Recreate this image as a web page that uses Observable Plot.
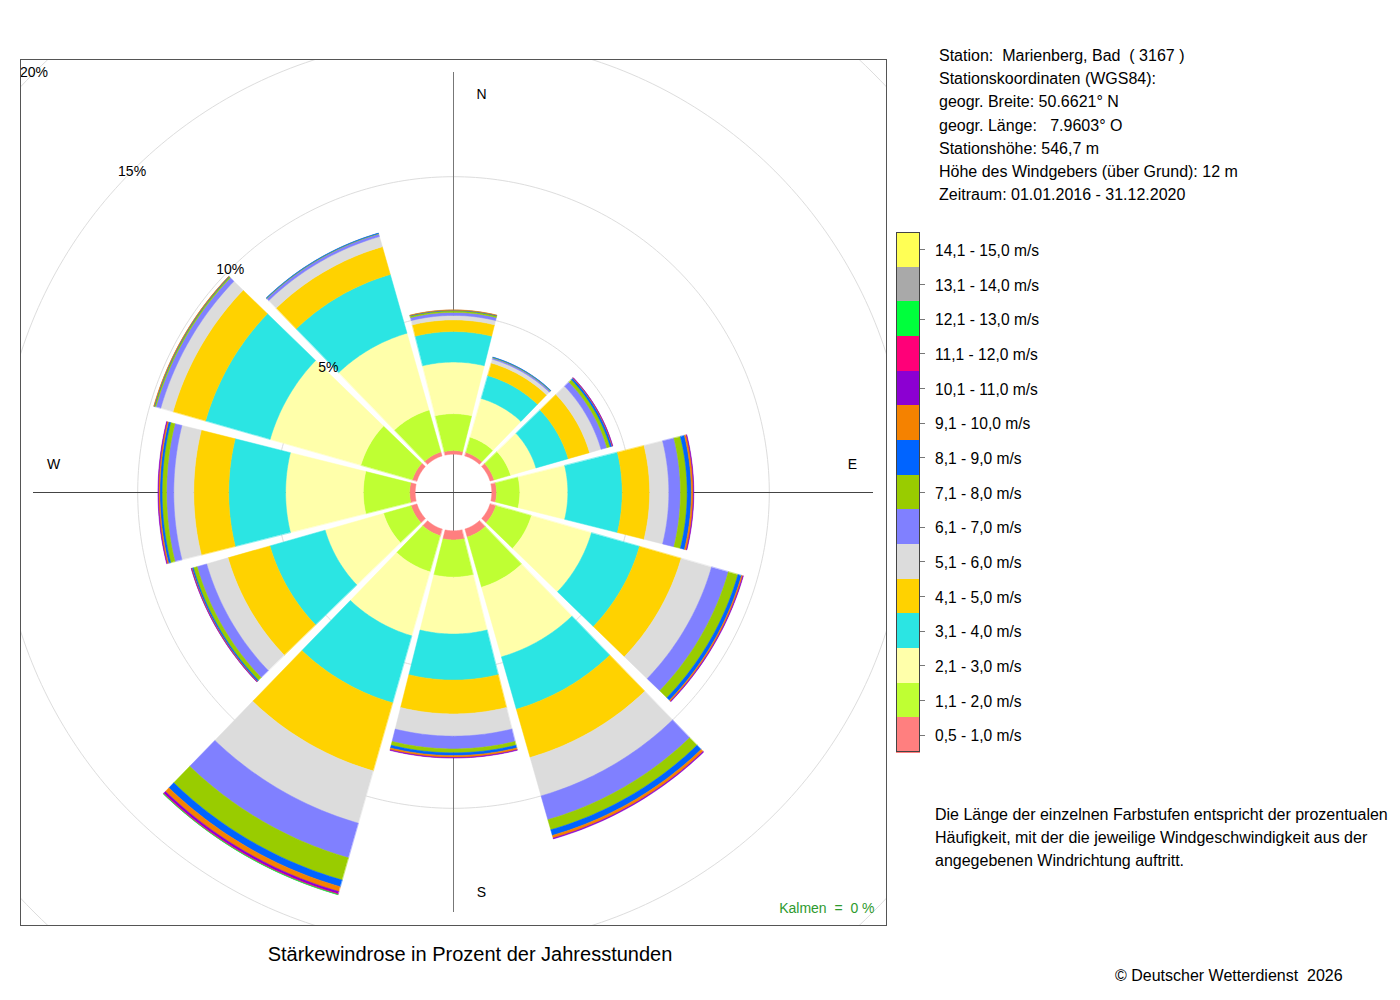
<!DOCTYPE html>
<html>
<head>
<meta charset="utf-8">
<script src="https://cdn.jsdelivr.net/npm/d3@7"></script>
<script src="https://cdn.jsdelivr.net/npm/@observablehq/plot@0.6"></script>
<style>
  body { margin: 0; background: #fff; font-family: "Liberation Sans", Arial, Helvetica, sans-serif; color: #000; }
  #page { position: relative; width: 1400px; height: 1000px; overflow: hidden; background: #fff; }
  #chart { position: absolute; left: 18px; top: 57px; }
  #info { position: absolute; left: 939px; top: 44px; font-size: 16px; line-height: 23.2px; white-space: pre; }
  #legend { position: absolute; left: 896px; top: 232px; }
  .sw { position: absolute; left: 0; width: 24px; box-sizing: border-box; }
  #legbox { position: absolute; left: 0; top: 0; width: 24px; border: 1px solid #444; box-sizing: border-box; }
  .tick { position: absolute; left: 24px; width: 5px; height: 1px; background: #777; }
  .lab { position: absolute; left: 39px; font-size: 15.6px; line-height: 18px; white-space: pre; }
  #desc { position: absolute; left: 935px; top: 803px; font-size: 16px; line-height: 23px; }
  #title { position: absolute; left: 0; width: 940px; top: 942px; text-align: center; font-size: 20px; line-height: 24px; }
  #copy { position: absolute; left: 1115px; top: 966px; font-size: 16px; line-height: 20px; white-space: pre; }
</style>
</head>
<body>
<div id="page">
  <div id="chart"></div>
  <div id="info"></div>
  <div id="legend"></div>
  <div id="desc">Die Länge der einzelnen Farbstufen entspricht der prozentualen<br>Häufigkeit, mit der die jeweilige Windgeschwindigkeit aus der<br>angegebenen Windrichtung auftritt.</div>
  <div id="title">Stärkewindrose in Prozent der Jahresstunden</div>
  <div id="copy">© Deutscher Wetterdienst  2026</div>
</div>
<script>
// ---------------- data ----------------
const directions = ["N", "NNO", "ONO", "O", "OSO", "SSO", "S", "SSW", "WSW", "W", "WNW", "NNW"];
const directionAngles = [0, 30, 60, 90, 120, 150, 180, 210, 240, 270, 300, 330];

const speedClasses = [
  "0,5 - 1,0 m/s", "1,1 - 2,0 m/s", "2,1 - 3,0 m/s", "3,1 - 4,0 m/s", "4,1 - 5,0 m/s",
  "5,1 - 6,0 m/s", "6,1 - 7,0 m/s", "7,1 - 8,0 m/s", "8,1 - 9,0 m/s", "9,1 - 10,0 m/s",
  "10,1 - 11,0 m/s", "11,1 - 12,0 m/s", "12,1 - 13,0 m/s", "13,1 - 14,0 m/s", "14,1 - 15,0 m/s"
];
const classColors = [
  "#ff7f7f", "#bfff33", "#ffffaa", "#2be5e3", "#ffd200",
  "#dcdcdc", "#8080ff", "#99cc00", "#0064ff", "#f58200",
  "#8c00d2", "#ff0078", "#00ff3c", "#a9a9a9", "#ffff55"
];

// percent of hours per direction (order as in `directions`)
const s0510  = [0.13, 0.13, 0.15, 0.17, 0.22, 0.30, 0.33, 0.25, 0.22, 0.20, 0.17, 0.15];
const s1120  = [1.33, 0.57, 0.62, 0.84, 1.33, 1.88, 1.34, 1.35, 1.03, 1.67, 1.93, 1.57];
const s2130  = [1.86, 1.45, 0.95, 1.73, 2.25, 2.61, 2.05, 2.40, 2.19, 2.80, 3.40, 2.88];
const s3140  = [1.10, 0.86, 1.21, 1.96, 1.80, 1.96, 1.66, 2.51, 2.07, 2.05, 2.42, 2.20];
const s4150  = [0.42, 0.47, 0.80, 0.99, 1.56, 1.81, 1.22, 2.55, 1.57, 1.26, 1.22, 1.04];
const s5160  = [0.16, 0.14, 0.43, 0.69, 1.14, 1.44, 0.80, 1.96, 0.80, 0.72, 0.46, 0.38];
const s6170  = [0.11, 0.05, 0.22, 0.42, 0.63, 0.89, 0.46, 1.30, 0.36, 0.26, 0.18, 0.10];
const s7180  = [0.06, 0.02, 0.12, 0.24, 0.36, 0.38, 0.14, 0.83, 0.14, 0.16, 0.05, 0.02];
const s8190  = [0.02, 0.01, 0.07, 0.15, 0.13, 0.21, 0.10, 0.25, 0.05, 0.08, 0.02, 0.01];
const s91100 = [0.01, 0.00, 0.02, 0.07, 0.05, 0.10, 0.07, 0.18, 0.02, 0.05, 0.01, 0.00];
const s101110 = [0.00, 0.00, 0.01, 0.02, 0.02, 0.03, 0.02, 0.08, 0.01, 0.02, 0.00, 0.00];
const s111120 = [0.00, 0.00, 0.00, 0.00, 0.00, 0.00, 0.00, 0.03, 0.00, 0.00, 0.00, 0.00];
const s121130 = [0.00, 0.00, 0.00, 0.00, 0.00, 0.00, 0.00, 0.01, 0.00, 0.00, 0.00, 0.00];
const s131140 = [0, 0, 0, 0, 0, 0, 0, 0, 0, 0, 0, 0];
const s141150 = [0, 0, 0, 0, 0, 0, 0, 0, 0, 0, 0, 0];
const classValues = [s0510, s1120, s2130, s3140, s4150, s5160, s6170, s7180, s8190, s91100,
                     s101110, s111120, s121130, s131140, s141150];

const gridPercents = [5, 10, 15, 20];
const gridLabels = ["5%", "10%", "15%", "20%"];
const calmsText = "Kalmen  =  0 %";

const stationLines = [
  "Station:  Marienberg, Bad  ( 3167 )",
  "Stationskoordinaten (WGS84):",
  "geogr. Breite: 50.6621° N",
  "geogr. Länge:   7.9603° O",
  "Stationshöhe: 546,7 m",
  "Höhe des Windgebers (über Grund): 12 m",
  "Zeitraum: 01.01.2016 - 31.12.2020"
];

// ---------------- geometry (radial units = percent) ----------------
const pxPerPct = 27.75;
const R = 433 / pxPerPct;          // half extent of the square plot frame
const hole = 38.3 / pxPerPct;      // white centre (calms circle)
const halfAngle = 14.08 * Math.PI / 180;
const edgeOffset = 1 / pxPerPct;
const deg = Math.PI / 180;

const segs = [];
directions.forEach((d, i) => {
  let cum = 0;
  const th = directionAngles[i] * deg;
  classValues.forEach((vals, c) => {
    const v = vals[i];
    if (!(v > 0)) return;
    const r1 = hole + cum, r2 = hole + cum + v;
    cum += v;
    const id = d + "-" + c;
    const edge = r => halfAngle - Math.asin(Math.min(1, edgeOffset / r));
    const a1 = edge(r1), a2 = edge(r2), n = 30;
    for (let k = 0; k <= n; k++) {
      const a = th - a1 + 2 * a1 * k / n;
      segs.push({id, cls: speedClasses[c], x: r1 * Math.sin(a), y: r1 * Math.cos(a)});
    }
    for (let k = 0; k <= n; k++) {
      const a = th + a2 - 2 * a2 * k / n;
      segs.push({id, cls: speedClasses[c], x: r2 * Math.sin(a), y: r2 * Math.cos(a)});
    }
  });
});

const grid = [];
gridPercents.forEach(p => {
  const r = hole + p;
  for (let k = 0; k <= 360; k++) grid.push({p, x: r * Math.sin(k * deg), y: r * Math.cos(k * deg)});
});
const gridText = gridPercents.map((p, i) => ({
  t: gridLabels[i], x: -(hole + p) * Math.SQRT1_2, y: (hole + p) * Math.SQRT1_2
}));

const axisLen = 420 / pxPerPct;
const compass = [
  {t: "N", x: 28 / pxPerPct, y: 398 / pxPerPct},
  {t: "S", x: 28 / pxPerPct, y: -400 / pxPerPct},
  {t: "W", x: -400 / pxPerPct, y: 28 / pxPerPct},
  {t: "E", x: 399 / pxPerPct, y: 28 / pxPerPct}
];

const chart = Plot.plot({
  width: 870, height: 870, margin: 2,
  x: {domain: [-R, R], axis: null},
  y: {domain: [-R, R], axis: null},
  color: {domain: speedClasses, range: classColors},
  style: {fontFamily: "'Liberation Sans', Arial, Helvetica, sans-serif", background: "white", color: "black"},
  marks: [
    Plot.line(grid, {x: "x", y: "y", z: "p", stroke: "#dddddd", strokeWidth: 1, clip: true}),
    Plot.ruleX([0], {y1: -axisLen, y2: axisLen, stroke: "#777", strokeWidth: 1}),
    Plot.ruleY([0], {x1: -axisLen, x2: axisLen, stroke: "#444", strokeWidth: 1}),
    Plot.line(segs, {x: "x", y: "y", z: "id", fill: "cls", stroke: "cls", strokeWidth: 0.5, curve: "linear-closed"}),
    Plot.text(gridText, {x: "x", y: "y", text: "t", fontSize: 14}),
    Plot.text(compass, {x: "x", y: "y", text: "t", fontSize: 14}),
    Plot.text([calmsText], {x: 421 / pxPerPct, y: -416 / pxPerPct, text: d => d, textAnchor: "end", fontSize: 14, fill: "#2e9a2e"}),
    Plot.frame({stroke: "#555"})
  ]
});
document.getElementById("chart").append(chart);

// ---------------- station info ----------------
document.getElementById("info").textContent = stationLines.join("\n");

// ---------------- legend ----------------
const leg = document.getElementById("legend");
const boxH = 34.67;
const n = speedClasses.length;
for (let j = 0; j < n; j++) {
  const c = n - 1 - j; // top = highest class
  const sw = document.createElement("div");
  sw.className = "sw";
  sw.style.top = (j * boxH) + "px";
  sw.style.height = (boxH + 0.5) + "px";
  sw.style.background = classColors[c];
  leg.append(sw);
  const tk = document.createElement("div");
  tk.className = "tick";
  tk.style.top = (j * boxH + boxH / 2) + "px";
  leg.append(tk);
  const lb = document.createElement("div");
  lb.className = "lab";
  lb.style.top = (j * boxH + boxH / 2 - 7.5) + "px";
  lb.textContent = speedClasses[c];
  leg.append(lb);
}
const box = document.createElement("div");
box.id = "legbox";
box.style.height = (n * boxH) + "px";
leg.append(box);
</script>
</body>
</html>
